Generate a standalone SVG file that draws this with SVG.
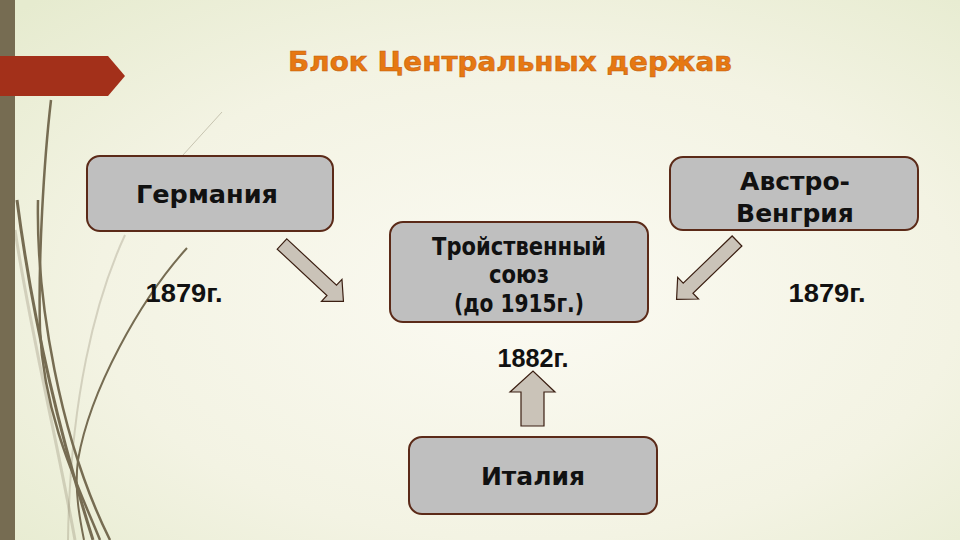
<svg xmlns="http://www.w3.org/2000/svg" width="960" height="540" viewBox="0 0 960 540">
<defs>
<radialGradient id="bg" cx="0.55" cy="0.55" r="0.75">
<stop offset="0" stop-color="#fbfaf2"/>
<stop offset="0.6" stop-color="#f3f3e3"/>
<stop offset="1" stop-color="#e6ebcf"/>
</radialGradient>
<style>
.box{fill:#bfbfbf;stroke:#5b2a18;stroke-width:2}
.bt{font-family:"DejaVu Sans","Noto Sans",sans-serif;font-weight:bold;font-size:25px;fill:#111;text-anchor:middle}
.yr{font-family:"Liberation Sans","Noto Sans",sans-serif;font-weight:bold;font-size:26px;fill:#111;text-anchor:middle}
.arr{fill:#cac3b8;stroke:#3b1f12;stroke-width:1.2;stroke-linejoin:miter}
.deco{fill:none;stroke:#766c52}
</style>
</defs>
<rect x="0" y="0" width="960" height="540" fill="url(#bg)"/>
<g id="decor">
<path class="deco" d="M51 100 C44 160 38 260 40 330 C44 420 80 490 100 540" stroke-width="2.5"/>
<path class="deco" d="M17 200 C30 300 55 420 93 540" stroke-width="3"/>
<path class="deco" d="M38 200 C36 300 60 440 110 540" stroke-width="2.5"/>
<path class="deco" d="M187 248 C140 300 90 390 78 460 C74 490 80 520 84 540" stroke-width="2"/>
<path class="deco" d="M222 112 L183 155" stroke-width="1" stroke-opacity="0.35"/>
<path class="deco" d="M125 235 C95 300 70 400 68 540" stroke-width="2" stroke-opacity="0.25"/>
<path class="deco" d="M15 230 C30 330 55 430 75 540" stroke-width="3" stroke-opacity="0.25"/>
<rect x="0" y="0" width="15" height="540" fill="#766c52"/>
<polygon points="0,56 108,56 125,76 108,96 0,96" fill="#a3301a"/>
</g>
<text x="510" y="71" font-family="DejaVu Sans,'Noto Sans',sans-serif" font-weight="bold" font-size="27" fill="#e67812" text-anchor="middle" textLength="444" lengthAdjust="spacingAndGlyphs" stroke="#c25a0a" stroke-width="0.5">Блок Центральных держав</text>
<g id="connectors">
<polygon class="arr" transform="translate(282,244) rotate(43)" points="0,-7 68,-7 68,-15 84,0 68,15 68,7 0,7"/>
<polygon class="arr" transform="translate(737,241) rotate(136)" points="0,-7 68,-7 68,-15 84,0 68,15 68,7 0,7"/>
<polygon class="arr" points="521,426 521,392 510,392 533,371 555,392 544,392 544,426"/>
</g>
<g id="germany">
<rect class="box" x="87" y="156" width="246" height="75" rx="13"/>
<text class="bt" x="207" y="203" textLength="142" lengthAdjust="spacingAndGlyphs">Германия</text>
</g>
<g id="austria">
<rect class="box" x="670" y="157" width="248" height="73" rx="13"/>
<text class="bt" x="795" y="190">Австро-</text>
<text class="bt" x="795" y="222">Венгрия</text>
</g>
<g id="triple">
<rect class="box" x="390" y="222" width="258" height="100" rx="13"/>
<text class="bt" x="519" y="255" font-size="22" textLength="174" lengthAdjust="spacingAndGlyphs">Тройственный</text>
<text class="bt" x="519" y="283" font-size="22" textLength="60" lengthAdjust="spacingAndGlyphs">союз</text>
<text class="bt" x="519" y="312" font-size="22" textLength="130" lengthAdjust="spacingAndGlyphs">(до 1915г.)</text>
</g>
<g id="italy">
<rect class="box" x="409" y="437" width="248" height="77" rx="13"/>
<text class="bt" x="533" y="485">Италия</text>
</g>
<text class="yr" x="184" y="302" textLength="77" lengthAdjust="spacingAndGlyphs">1879г.</text>
<text class="yr" x="827" y="302" textLength="77" lengthAdjust="spacingAndGlyphs">1879г.</text>
<text class="yr" x="533" y="367" textLength="71" lengthAdjust="spacingAndGlyphs">1882г.</text>
</svg>
